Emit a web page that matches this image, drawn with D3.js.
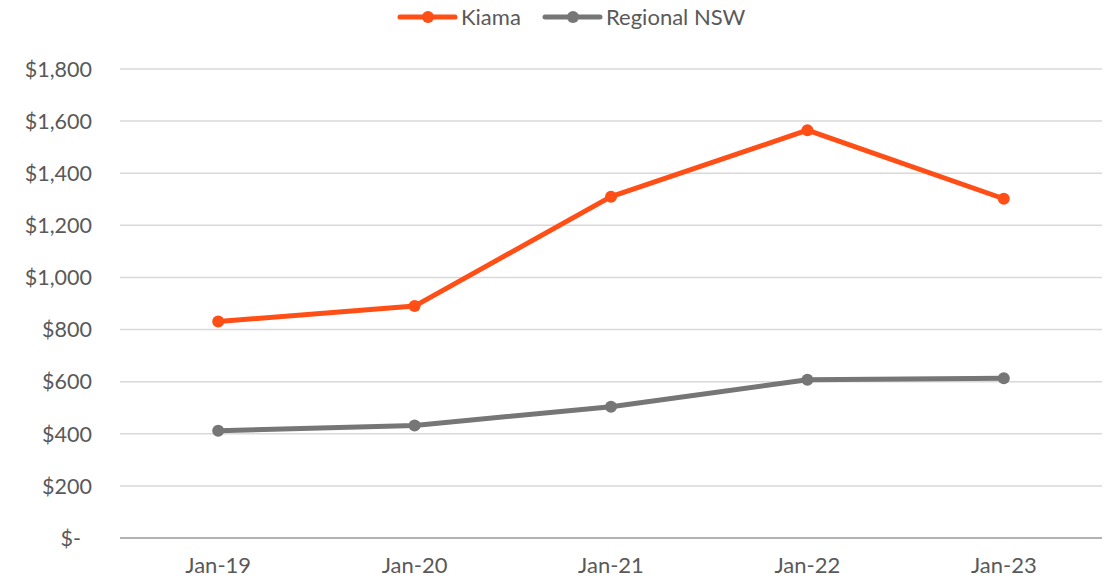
<!DOCTYPE html>
<html>
<head>
<meta charset="utf-8">
<script src="https://cdn.jsdelivr.net/npm/d3@7"></script>
<style>
  body { margin: 0; background: #fff; }
  text { font-family: "Lato", "Liberation Sans", sans-serif; fill: #595959; }
</style>
</head>
<body>
<svg id="chart" width="1115" height="582"></svg>
<script>
var categories = ["Jan-19", "Jan-20", "Jan-21", "Jan-22", "Jan-23"];
var kiama = [831, 890, 1310, 1565, 1302];
var regional = [412, 432, 504, 607, 613];
var yTicks = [0, 200, 400, 600, 800, 1000, 1200, 1400, 1600, 1800];
var seriesNames = ["Kiama", "Regional NSW"];
var colors = ["#FF4F17", "#767676"];

var svg = d3.select("#chart");
var margin = {top: 69, right: 13, bottom: 44, left: 120};
var width = 1115 - margin.left - margin.right;
var height = 582 - margin.top - margin.bottom;

var x = d3.scalePoint()
    .domain(categories)
    .range([0, width])
    .padding(0.5);
var y = d3.scaleLinear()
    .domain([0, 1800])
    .range([height, 0]);

var g = svg.append("g")
    .attr("transform", `translate(${margin.left},${margin.top})`);

// gridlines
g.append("g").selectAll("line")
    .data(yTicks.filter(d => d > 0))
    .enter().append("line")
    .attr("x1", 0).attr("x2", width)
    .attr("y1", d => y(d)).attr("y2", d => y(d))
    .attr("stroke", "#D9D9D9")
    .attr("stroke-width", 1.5);

// y labels
var fmt = d3.format(",");
g.append("g").selectAll("text")
    .data(yTicks)
    .enter().append("text")
    .attr("x", d => d == 0 ? -39 : -28)
    .attr("y", d => y(d))
    .attr("dy", "0.36em")
    .attr("text-anchor", "end")
    .style("font-size", "21.5px")
    .text(d => d == 0 ? "$-" : "$" + fmt(d));

// x axis baseline
g.append("line")
    .attr("x1", 0).attr("x2", width)
    .attr("y1", y(0)).attr("y2", y(0))
    .attr("stroke", "#999")
    .attr("stroke-width", 1.5);

g.append("g").selectAll("text")
    .data(categories)
    .enter().append("text")
    .attr("x", d => x(d))
    .attr("y", height + 35)
    .attr("text-anchor", "middle")
    .style("font-size", "22px")
    .text(d => d);

var line = d3.line()
    .x((d, i) => x(categories[i]))
    .y(d => y(d));

[regional, kiama].forEach(function (vals, k) {
    var c = k == 0 ? colors[1] : colors[0];
    g.append("path")
        .datum(vals)
        .attr("d", line)
        .attr("fill", "none")
        .attr("stroke", c)
        .attr("stroke-width", 5)
        .attr("stroke-linejoin", "round");
    g.append("g").selectAll("circle")
        .data(vals)
        .enter().append("circle")
        .attr("cx", (d, i) => x(categories[i]))
        .attr("cy", d => y(d))
        .attr("r", 6)
        .attr("fill", c);
});

// legend
var legend = svg.append("g").attr("transform", "translate(0,17)");
var legendX = [400, 545];
seriesNames.forEach(function (name, i) {
    var lg = legend.append("g").attr("transform", `translate(${legendX[i]},0)`);
    lg.append("line")
        .attr("x1", 0).attr("x2", 55)
        .attr("stroke", colors[i])
        .attr("stroke-width", 5)
        .attr("stroke-linecap", "round");
    lg.append("circle")
        .attr("cx", 28).attr("r", 6)
        .attr("fill", colors[i]);
    lg.append("text")
        .attr("x", 61)
        .attr("dy", "0.36em")
        .style("font-size", "22px")
        .text(name);
});
</script>
</body>
</html>
